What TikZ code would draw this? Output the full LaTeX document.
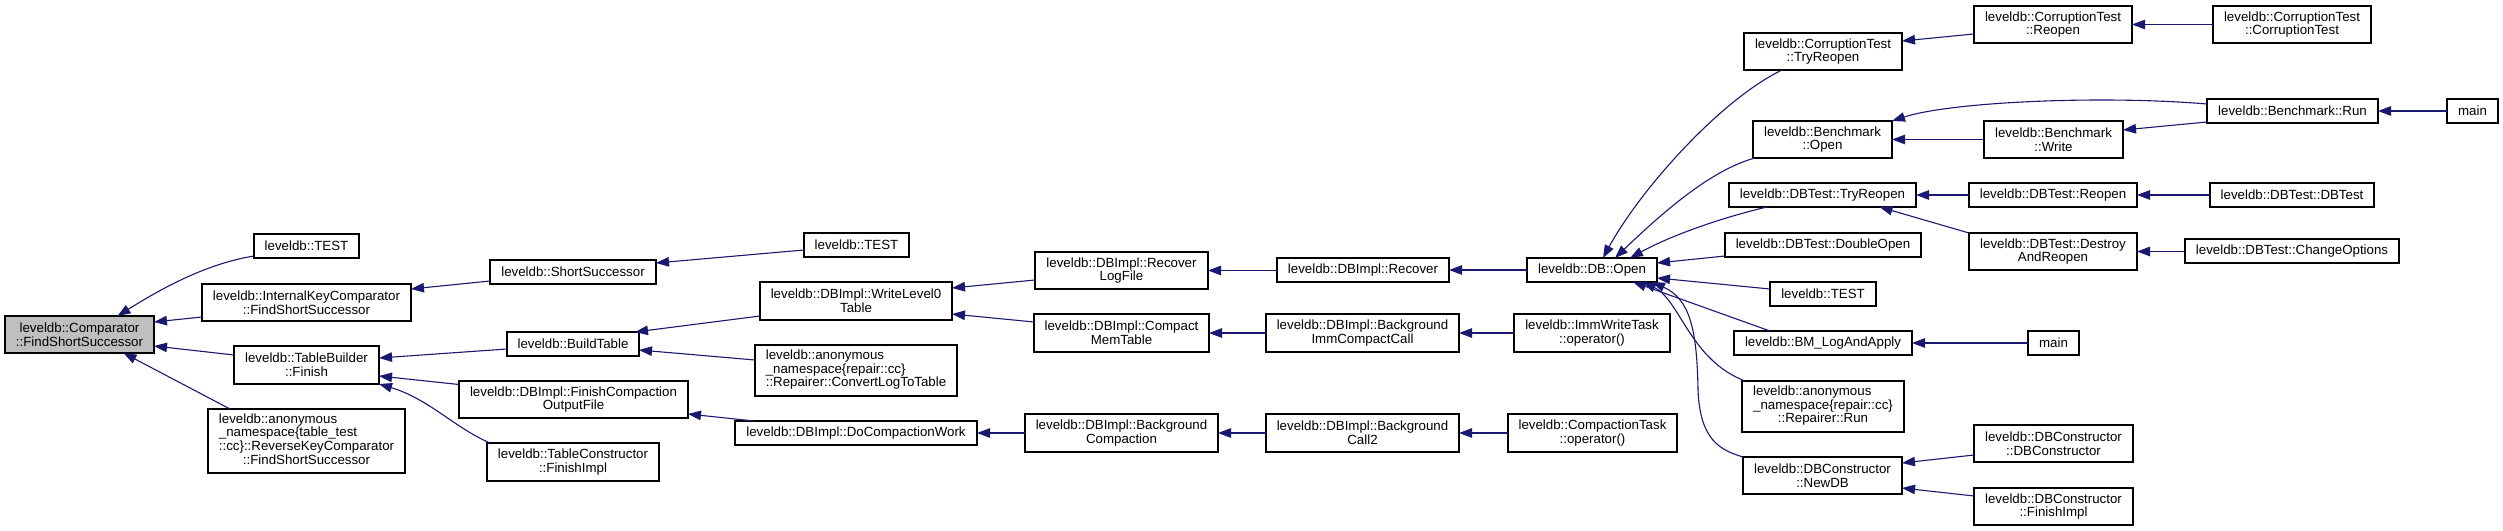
\documentclass[tikz,border=0pt]{standalone}
\usepackage{fontspec}
\setmainfont{Liberation Sans}
\usetikzlibrary{arrows.meta,calc}
\definecolor{edgeblue}{HTML}{191970}
\definecolor{rootgray}{HTML}{BFBFBF}
\newcommand\dfont{\fontsize{13.3bp}{13.6bp}\selectfont}
\newcommand\mknode[7][]{\node[box,#1,minimum width={(#5-#3)*1bp},minimum height={(#6-#4)*1bp}] (#2) at ({(#3+#5)/2},{(#4+#6)/2}) {#7};}
\tikzset{
  box/.style={draw=black, line width=1.1bp, fill=white, inner sep=0pt, outer sep=0pt, align=center, font=\dfont},
  rootbox/.style={fill=rootgray},
  edge/.style={draw=edgeblue, line width=1.1bp, {Triangle[length=13bp,width=9.5bp]}-}
}
\begin{document}
\begin{tikzpicture}[x=1bp,y=-1bp]
\useasboundingbox[fill=white] (0,0) rectangle (2503,531);
% column 0-1
\mknode[rootbox]{root}{5}{316}{154}{353}{leveldb::Comparator\\::FindShortSuccessor}
\mknode{test1}{254}{234}{359}{258}{leveldb::TEST}
\mknode{ikc}{202}{284}{411}{321}{leveldb::InternalKeyComparator\\::FindShortSuccessor}
\mknode{tbf}{234}{346}{379}{384}{leveldb::TableBuilder\\::Finish}
\mknode{rkc}{208}{409}{405}{473}{\begin{tabular}{@{}l@{}}leveldb::anonymous\\\_namespace\{table\_test\\::cc\}::ReverseKeyComparator\\\multicolumn{1}{@{}c@{}}{::FindShortSuccessor}\end{tabular}}
% column 2-3
\mknode{ss}{490}{260}{656}{284}{leveldb::ShortSuccessor}
\mknode{test2}{804}{233}{909}{257}{leveldb::TEST}
\mknode{bt}{507}{332}{639}{356}{leveldb::BuildTable}
\mknode{wl0}{760}{282}{952}{320}{leveldb::DBImpl::WriteLevel0\\Table}
\mknode{cltt}{755}{345}{957}{396}{\begin{tabular}{@{}l@{}}leveldb::anonymous\\\_namespace\{repair::cc\}\\::Repairer::ConvertLogToTable\end{tabular}}
\mknode{fcof}{459}{381}{688}{418}{leveldb::DBImpl::FinishCompaction\\OutputFile}
\mknode{dcw}{735}{421}{977}{445}{leveldb::DBImpl::DoCompactionWork}
\mknode{tcfi}{487}{443}{659}{481}{leveldb::TableConstructor\\::FinishImpl}
% column 4-6
\mknode{rlf}{1035}{252}{1208}{289}{leveldb::DBImpl::Recover\\LogFile}
\mknode{rec}{1277}{258}{1449}{282}{leveldb::DBImpl::Recover}
\mknode{open}{1527}{258}{1657}{282}{leveldb::DB::Open}
\mknode{cmt}{1034}{314}{1209}{352}{leveldb::DBImpl::Compact\\MemTable}
\mknode{bicc}{1266}{314}{1459}{352}{leveldb::DBImpl::Background\\ImmCompactCall}
\mknode{iwt}{1514}{314}{1670}{352}{leveldb::ImmWriteTask\\::operator()}
\mknode{bgc}{1025}{414}{1218}{452}{leveldb::DBImpl::Background\\Compaction}
\mknode{bc2}{1266}{414}{1459}{452}{leveldb::DBImpl::Background\\Call2}
\mknode{ct}{1508}{414}{1677}{452}{leveldb::CompactionTask\\::operator()}
% column 7
\mknode{ctr}{1744}{33}{1902}{70}{leveldb::CorruptionTest\\::TryReopen}
\mknode{bo}{1753}{121}{1892}{158}{leveldb::Benchmark\\::Open}
\mknode{dtr}{1729}{183}{1916}{207}{leveldb::DBTest::TryReopen}
\mknode{do}{1725}{233}{1921}{257}{leveldb::DBTest::DoubleOpen}
\mknode{test3}{1770}{282}{1876}{306}{leveldb::TEST}
\mknode{bm}{1734}{331}{1912}{355}{leveldb::BM\_LogAndApply}
\mknode{rr}{1742}{381}{1904}{432}{\begin{tabular}{@{}l@{}}leveldb::anonymous\\\_namespace\{repair::cc\}\\\multicolumn{1}{@{}c@{}}{::Repairer::Run}\end{tabular}}
\mknode{ndb}{1743}{457}{1902}{494}{leveldb::DBConstructor\\::NewDB}
% column 8-10
\mknode{cro}{1974}{6}{2132}{43}{leveldb::CorruptionTest\\::Reopen}
\mknode{cct}{2213}{6}{2371}{43}{leveldb::CorruptionTest\\::CorruptionTest}
\mknode{br}{2207}{99}{2378}{123}{leveldb::Benchmark::Run}
\mknode{main1}{2447}{99}{2498}{123}{main}
\mknode{bw}{1984}{121}{2123}{158}{leveldb::Benchmark\\::Write}
\mknode{dtro}{1969}{183}{2137}{207}{leveldb::DBTest::Reopen}
\mknode{dtdt}{2210}{183}{2374}{207}{leveldb::DBTest::DBTest}
\mknode{dar}{1969}{233}{2137}{270}{leveldb::DBTest::Destroy\\AndReopen}
\mknode{chg}{2185}{239}{2399}{263}{leveldb::DBTest::ChangeOptions}
\mknode{main2}{2028}{331}{2079}{355}{main}
\mknode{dbc}{1974}{425}{2133}{462}{leveldb::DBConstructor\\::DBConstructor}
\mknode{dbfi}{1974}{488}{2133}{525}{leveldb::DBConstructor\\::FinishImpl}
% edges
\draw[edge] ($(root.north)+(38,0)$) .. controls +(40,-25) and +(-50,8) .. ($(test1.west)+(0,10)$);
\draw[edge] ($(root.east)+(0,-12.5)$) -- ($(ikc.west)+(0,14.5)$);
\draw[edge] ($(root.east)+(0,11.5)$) -- ($(tbf.west)+(0,-10)$);
\draw[edge] ($(root.south)+(44,0)$) -- ($(rkc.north west)+(22,0)$);
\draw[edge] ($(ikc.east)+(0,-13.5)$) -- ($(ss.west)+(0,9)$);
\draw[edge] ($(ss.east)+(0,-9)$) -- ($(test2.west)+(0,5)$);
\draw[edge] ($(tbf.east)+(0,-7)$) -- ($(bt.west)+(0,5)$);
\draw[edge] ($(tbf.east)+(0,11)$) -- ($(fcof.west)+(0,-15)$);
\draw[edge] (tbf.south east) .. controls +(50,15) and +(-35,-15) .. ($(tcfi.north west)+(3,0)$);
\draw[edge] ($(bt.north east)+(-4,0)$) -- ($(wl0.west)+(0,15)$);
\draw[edge] ($(bt.east)+(0,6)$) -- ($(cltt.west)+(0,-10.5)$);
\draw[edge] ($(wl0.east)+(0,-13)$) -- ($(rlf.west)+(0,9.5)$);
\draw[edge] ($(wl0.east)+(0,13)$) -- ($(cmt.west)+(0,-11)$);
\draw[edge] (rlf.east) -- (rlf.east -| rec.west);
\draw[edge] (rec.east) -- (open.west);
\draw[edge] (cmt.east) -- (cmt.east -| bicc.west);
\draw[edge] (bicc.east) -- (iwt.west);
\draw[edge] ($(fcof.east)+(0,14.5)$) -- ($(dcw.north west)+(19,0)$);
\draw[edge] (dcw.east) -- (dcw.east -| bgc.west);
\draw[edge] (bgc.east) -- (bgc.east -| bc2.west);
\draw[edge] (bc2.east) -- (bc2.east -| ct.west);
\draw[edge] ($(open.north west)+(76,0)$) .. controls +(37,-68) and +(-62,30) .. ($(ctr.south west)+(38,0)$);
\draw[edge] ($(open.north west)+(88,0)$) .. controls +(45,-43) and +(-45,12) .. ($(bo.south west)+(2,0)$);
\draw[edge] ($(open.north west)+(103,0)$) .. controls +(40,-22) and +(-47,11) .. ($(dtr.south west)+(38,0)$);
\draw[edge] ($(open.east)+(0,-7)$) -- ($(do.west)+(0,11)$);
\draw[edge] ($(open.east)+(0,8)$) -- ($(test3.west)+(0,-5)$);
\draw[edge] ($(open.south)+(41,0)$) -- ($(bm.north west)+(36,0)$);
\draw[edge] ($(open.south)+(51,0)$) .. controls +(37,18) and +(-55,-21) .. ($(rr.north west)+(3,0)$);
\draw[edge] ($(open.south)+(60,0)$) .. controls +(38,17) and +(-1,-60) .. ($(open.south)+(106,108)$) .. controls +(2,50) and +(-23,-7) .. (ndb.north west);
\draw[edge] ($(ctr.east)+(0,-10.5)$) -- ($(cro.west)+(0,9.5)$);
\draw[edge] (cro.east) -- (cro.east -| cct.west);
\draw[edge] (bo.north east) .. controls +(58,-19) and +(-107,-9) .. ($(br.west)+(0,-7)$);
\draw[edge] (bo.east) -- (bo.east -| bw.west);
\draw[edge] ($(bw.east)+(0,-9.5)$) -- ($(br.west)+(0,11)$);
\draw[edge] (br.east) -- (main1.west);
\draw[edge] (dtr.east) -- (dtr.east -| dtro.west);
\draw[edge] ($(dtr.south)+(57,0)$) -- (dar.north west);
\draw[edge] (dtro.east) -- (dtdt.west);
\draw[edge] (dar.east) -- (dar.east -| chg.west);
\draw[edge] (bm.east) -- (bm.east -| main2.west);
\draw[edge] ($(ndb.east)+(0,-12.5)$) -- ($(dbc.west)+(0,11.5)$);
\draw[edge] ($(ndb.east)+(0,12.5)$) -- ($(dbfi.west)+(0,-10.5)$);
\end{tikzpicture}
\end{document}
